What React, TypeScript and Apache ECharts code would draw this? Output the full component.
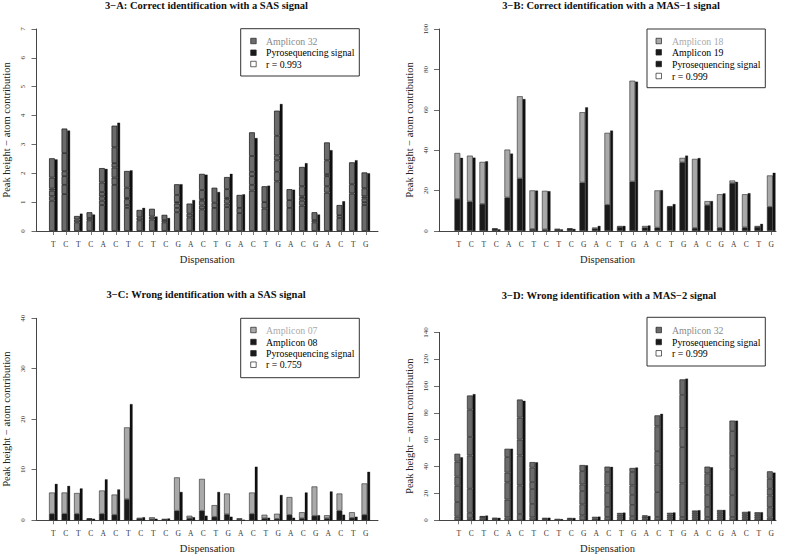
import React, { useEffect, useRef } from 'react';
import * as echarts from 'echarts';

// ---------- data ----------
const dispensation = ['T','C','T','C','A','C','T','C','T','C','G','A','C','T','G','A','C','T','G','A','C','G','A','C','T','G'];

// Panel 3-A: Amplicon 32, internal atom boundaries (cumulative heights) and totals
const atomLinesA: number[][] = [
  [1.05, 1.2, 1.4, 1.47, 1.85], [1.28, 1.6, 1.9, 2.07, 2.7], [0.3, 0.4], [0.37, 0.45],
  [0.9, 1.05, 1.2, 1.35, 1.68], [1.6, 1.85, 2.2, 2.35, 2.9], [0.8, 0.9, 1.1, 1.15, 1.5],
  [0.37, 0.47], [0.4, 0.5], [0.3, 0.38], [0.65, 0.8, 0.95, 1.0, 1.25], [0.47, 0.6],
  [0.75, 0.88, 1.05, 1.1, 1.42], [0.8, 0.98], [0.83, 0.95, 1.1, 1.15, 1.45], [0.62, 0.8],
  [1.4, 1.6, 1.9, 2.05, 2.6], [0.78, 1.0], [1.72, 2.05, 2.45, 2.62, 3.3], [0.8, 1.07],
  [0.88, 1.05, 1.15, 1.2, 1.55], [0.3, 0.38], [1.33, 1.55, 1.9, 1.97, 2.45], [0.45, 0.55],
  [1.3, 1.62], [0.9, 1.0, 1.13, 1.2, 1.48],
];
const totalA = [2.52, 3.55, 0.52, 0.65, 2.18, 3.65, 2.08, 0.73, 0.77, 0.56, 1.62, 0.95, 1.98, 1.5, 1.87, 1.25, 3.42, 1.55, 4.17, 1.45, 2.22, 0.65, 3.07, 0.9, 2.38, 2.03];
const pyroA = [2.48, 3.48, 0.6, 0.57, 2.15, 3.75, 2.1, 0.8, 0.5, 0.45, 1.62, 1.07, 1.95, 1.35, 1.98, 1.27, 3.22, 1.57, 4.4, 1.43, 2.35, 0.57, 2.8, 1.03, 2.45, 2.0];

// Panel 3-B
const amp19B = [15.9, 14.6, 13.4, 1.1, 16.6, 26, 1, 0.8, 0.8, 1.1, 24, 1.2, 13, 2, 24.5, 1.7, 1.7, 12, 34, 1.5, 12.8, 1.6, 23.7, 1.8, 2, 12];
const amp18B = [22.7, 22.7, 20.8, 0.1, 23.7, 40.7, 19.1, 19.1, 0.2, 0.2, 34.8, 0.5, 35.6, 0.5, 49.9, 0.8, 18.4, 0.3, 2.2, 34.2, 2.0, 16.6, 1.3, 16.4, 0.5, 15.5];
const pyroB = [36.2, 36.3, 34.5, 0.8, 38.3, 65.3, 20, 19.7, 0.8, 1.0, 61.2, 2.5, 49.7, 2.5, 73.9, 2.7, 20.2, 13.3, 37.3, 36.1, 14.8, 18.6, 24.3, 18.7, 3.5, 28.8];

// Panel 3-C
const amp08C = [1.3, 1.3, 1.3, 0.3, 1.3, 1.1, 4.2, 0.3, 0.2, 0.15, 1.9, 0.4, 1.9, 0.7, 1.2, 0.2, 1.3, 0.4, 0.3, 1.1, 0.4, 0.9, 0.4, 1.9, 0.5, 1.1];
const amp07C = [4.2, 4.2, 4.1, 0.1, 4.6, 4.0, 14.2, 0.2, 0.4, 0.1, 6.6, 0.5, 6.3, 2.3, 4.1, 0.2, 4.2, 0.7, 1.0, 3.5, 1.2, 5.8, 0.6, 3.4, 1.1, 6.2];
const pyroC = [7.2, 6.8, 6.3, 0.3, 8.1, 6.1, 23.0, 0.6, 0.3, 0.35, 5.6, 0.6, 0.9, 5.6, 0.7, 0.1, 10.6, 0.5, 5.0, 0.5, 5.5, 1.0, 5.7, 1.1, 0.7, 9.6];

// Panel 3-D: Amplicon 32
const atomLinesD: number[][] = [
  [2.7, 13.6, 25.8, 32.5, 43.7], [1.5, 5.6, 23.5, 48.3, 62.1, 82.4], [1.5, 2.5], [1.0],
  [2.2, 15.4, 28.3, 35.5, 47.1], [4.7, 26, 48.3, 60.1, 76.5], [2.2, 12.2, 23.3, 28.5, 39.2],
  [1.0], [], [1.0], [3.7, 11.9, 21.8, 26.7, 36.6], [1.2], [2.5, 10, 20.5, 26, 36],
  [1.5, 3, 4.3], [3, 11.5, 19, 26, 36], [1.5, 2.7], [2.5, 21, 41.5, 51.5, 70], [1.5, 3, 4.3],
  [2.5, 27.5, 54.5, 68.5, 93.5], [1.5, 3, 4.5, 6], [2.5, 10, 19, 26, 35], [1.5, 3, 4.5, 6],
  [2.5, 18.7, 38, 48, 66.5], [1.5, 3, 4.5], [1.5, 3, 4.5], [2, 9.7, 18.5, 23.5, 31],
];
const totalD = [49.6, 93, 3.2, 2.0, 53.3, 90, 43.4, 1.9, 1.1, 1.8, 41.2, 2.6, 40, 5.5, 39, 3.7, 78.2, 5.6, 105, 7.3, 40, 7.7, 74.3, 6.3, 6.0, 36.5];
const pyroD = [46.9, 94, 3.5, 1.8, 53.3, 89, 43.2, 1.9, 0.9, 1.7, 41, 2.7, 39.8, 5.7, 39.3, 3.2, 79.3, 5.8, 105.5, 7.5, 39.5, 7.7, 74.2, 6.6, 6.0, 35.5];

const titles = [
  '3\u2212A: Correct identification with a SAS signal',
  '3\u2212B: Correct identification with a MAS\u22121 signal',
  '3\u2212C: Wrong identification with a SAS signal',
  '3\u2212D: Wrong identification with a MAS\u22122 signal',
];
const yMax = [7, 100, 40, 140];
const yStep = [1, 20, 10, 20];
const yName = 'Peak height \u2212 atom contribution';
const xName = 'Dispensation';

const legendLabelsA = ['Amplicon 32', 'Pyrosequencing signal', 'r = 0.993'];
const legendLabelsB = ['Amplicon 18', 'Amplicon 19', 'Pyrosequencing signal', 'r = 0.999'];
const legendLabelsC = ['Amplicon 07', 'Amplicon 08', 'Pyrosequencing signal', 'r = 0.759'];
const legendLabelsD = ['Amplicon 32', 'Pyrosequencing signal', 'r = 0.999'];

// ---------- styles / layout ----------
const DARK = '#6b6b6b';
const LIGHT = '#a9a9a9';
const BLACK = '#1a1a1a';
const FONT = 'Liberation Serif';

const geo = [
  { axisLeft: 34.5, axisRight: 378, top: 29, height: 202, barsLeft: 47.05, barsWidth: 325, titleX: 206.5, titleY: 5 },
  { axisLeft: 439, axisRight: 776, top: 29, height: 202, barsLeft: 452.45, barsWidth: 325, titleX: 611, titleY: 5 },
  { axisLeft: 34.5, axisRight: 378, top: 318.3, height: 202, barsLeft: 47.05, barsWidth: 325, titleX: 206, titleY: 294.3 },
  { axisLeft: 439, axisRight: 776, top: 332.4, height: 187.9, barsLeft: 452.45, barsWidth: 325, titleX: 609, titleY: 295 },
];

const legends = [
  { x: 240.7, y: 28.7, w: 118.6, h: 47.3, sqX: 250.7, txtX: 266, rows: [41, 52.7, 64], labels: legendLabelsA,
    fills: [DARK, BLACK, '#ffffff'], textColors: ['#8a8a8a', '#000', '#000'] },
  { x: 647, y: 29, w: 118.3, h: 58.7, sqX: 656, txtX: 672, rows: [41, 52.3, 64, 76], labels: legendLabelsB,
    fills: [LIGHT, BLACK, BLACK, '#ffffff'], textColors: ['#aaaaaa', '#000', '#000', '#000'] },
  { x: 240.7, y: 318.3, w: 118.6, h: 59.4, sqX: 250.7, txtX: 266, rows: [330, 342, 353.3, 364.7], labels: legendLabelsC,
    fills: [LIGHT, BLACK, BLACK, '#ffffff'], textColors: ['#aaaaaa', '#000', '#000', '#000'] },
  { x: 647, y: 317.3, w: 118.3, h: 48.7, sqX: 656, txtX: 672, rows: [330, 342, 353.3], labels: legendLabelsD,
    fills: [DARK, BLACK, '#ffffff'], textColors: ['#8a8a8a', '#000', '#000'] },
];

const WIDE = 5.8;
const THIN = 2.7;

function segments(lines: number[][], totals: number[]): number[][] {
  return lines.map((ls, i) => {
    const b = [0, ...ls, totals[i]];
    const out: number[] = [];
    for (let k = 1; k < b.length; k++) out.push(+(b[k] - b[k - 1]).toFixed(4));
    return out;
  });
}

function atomSeries(name: string, segs: number[][], axisIdx: number, stack: string, lineColor: string) {
  const maxSeg = Math.max(...segs.map((s) => s.length));
  const out: any[] = [];
  for (let k = 0; k < maxSeg; k++) {
    out.push({
      type: 'bar', name, stack, xAxisIndex: axisIdx, yAxisIndex: axisIdx,
      barWidth: WIDE, barGap: '0%',
      data: segs.map((s) => (k < s.length ? s[k] : '-')),
      itemStyle: { color: DARK, borderColor: lineColor, borderWidth: 0.75 },
    });
  }
  return out;
}

function pyroSeries(data: number[], axisIdx: number) {
  return {
    type: 'bar', name: 'Pyrosequencing signal', xAxisIndex: axisIdx, yAxisIndex: axisIdx,
    barWidth: THIN, barGap: '0%', data,
    itemStyle: { color: '#111111', borderColor: '#000', borderWidth: 0.3 },
  };
}

function plainSeries(name: string, data: number[], axisIdx: number, stack: string, color: string) {
  return {
    type: 'bar', name, stack, xAxisIndex: axisIdx, yAxisIndex: axisIdx,
    barWidth: WIDE, barGap: '0%', data,
    itemStyle: { color, borderColor: '#2a2a2a', borderWidth: 0.6 },
  };
}

function buildOption() {
  const grid: any[] = [];
  const xAxis: any[] = [];
  const yAxis: any[] = [];
  geo.forEach((g, p) => {
    grid.push({ left: g.axisLeft, top: g.top, width: g.axisRight - g.axisLeft, height: g.height });
    grid.push({ left: g.barsLeft, top: g.top, width: g.barsWidth, height: g.height });
    xAxis.push({
      type: 'value', gridIndex: 2 * p, min: 0, max: 1,
      axisLine: { show: true, lineStyle: { color: '#444', width: 1 } },
      axisTick: { show: false }, axisLabel: { show: false }, splitLine: { show: false },
      name: xName, nameLocation: 'middle', nameGap: 23,
      nameTextStyle: { fontFamily: FONT, fontSize: 10.5, color: '#222' },
    });
    xAxis.push({
      type: 'category', gridIndex: 2 * p + 1, data: dispensation, boundaryGap: true,
      axisLine: { show: false },
      axisTick: { show: true, alignWithLabel: true, length: 4, lineStyle: { color: '#555', width: 0.8 } },
      axisLabel: { interval: 0, fontFamily: FONT, fontSize: 7.5, color: '#333', margin: 9 },
      splitLine: { show: false },
    });
    yAxis.push({
      type: 'value', gridIndex: 2 * p, min: 0, max: yMax[p], interval: yStep[p],
      axisLine: { show: true, lineStyle: { color: '#444', width: 1 } },
      axisTick: { show: true, length: 5, lineStyle: { color: '#444', width: 0.8 } },
      axisLabel: { rotate: 90, fontFamily: FONT, fontSize: 7, color: '#333', margin: 10 },
      splitLine: { show: false },
      name: yName, nameLocation: 'middle', nameRotate: 90, nameGap: 24.5,
      nameTextStyle: { fontFamily: FONT, fontSize: 10.5, color: '#222' },
    });
    yAxis.push({
      type: 'value', gridIndex: 2 * p + 1, min: 0, max: yMax[p], show: false,
      splitLine: { show: false },
    });
  });

  const series: any[] = [
    ...atomSeries('Amplicon 32', segments(atomLinesA, totalA), 1, 'A', '#1a1a1a'),
    pyroSeries(pyroA, 1),
    plainSeries('Amplicon 19', amp19B, 3, 'B', BLACK),
    plainSeries('Amplicon 18', amp18B, 3, 'B', LIGHT),
    pyroSeries(pyroB, 3),
    plainSeries('Amplicon 08', amp08C, 5, 'C', BLACK),
    plainSeries('Amplicon 07', amp07C, 5, 'C', LIGHT),
    pyroSeries(pyroC, 5),
    ...atomSeries('Amplicon 32 ', segments(atomLinesD, totalD), 7, 'D', '#2e2e2e'),
    pyroSeries(pyroD, 7),
  ];

  const graphic: any[] = [];
  geo.forEach((g, p) => {
    graphic.push({
      type: 'text', x: g.titleX, y: g.titleY,
      style: {
        text: titles[p], fontFamily: FONT, fontWeight: 'bold', fontSize: 10.5, fill: '#111',
        textAlign: 'center', textVerticalAlign: 'middle', align: 'center', verticalAlign: 'middle',
      },
    });
  });
  legends.forEach((L) => {
    graphic.push({
      type: 'rect', shape: { x: L.x, y: L.y, width: L.w, height: L.h },
      style: { fill: '#ffffff', stroke: '#333', lineWidth: 1 }, z: 10,
    });
    L.rows.forEach((ry, i) => {
      graphic.push({
        type: 'rect', shape: { x: L.sqX, y: ry - 2.75, width: 5.5, height: 5.5 },
        style: { fill: L.fills[i], stroke: '#222', lineWidth: 0.7 }, z: 11,
      });
      graphic.push({
        type: 'text', x: L.txtX, y: ry, z: 11,
        style: {
          text: L.labels[i], fontFamily: FONT, fontSize: 9.8, fill: L.textColors[i],
          textAlign: 'left', textVerticalAlign: 'middle', align: 'left', verticalAlign: 'middle',
        },
      });
    });
  });

  return {
    animation: false,
    backgroundColor: '#ffffff',
    textStyle: { fontFamily: FONT },
    grid, xAxis, yAxis, series, graphic,
  };
}

export default function App() {
  const ref = useRef<HTMLDivElement>(null);
  useEffect(() => {
    if (!ref.current) return;
    const chart = echarts.init(ref.current, undefined, { renderer: 'svg' });
    chart.setOption(buildOption() as any);
    return () => chart.dispose();
  }, []);
  return (
    <div
      ref={ref}
      style={{ position: 'absolute', left: 0, top: 0, width: 785, height: 555, background: '#fff' }}
    />
  );
}
